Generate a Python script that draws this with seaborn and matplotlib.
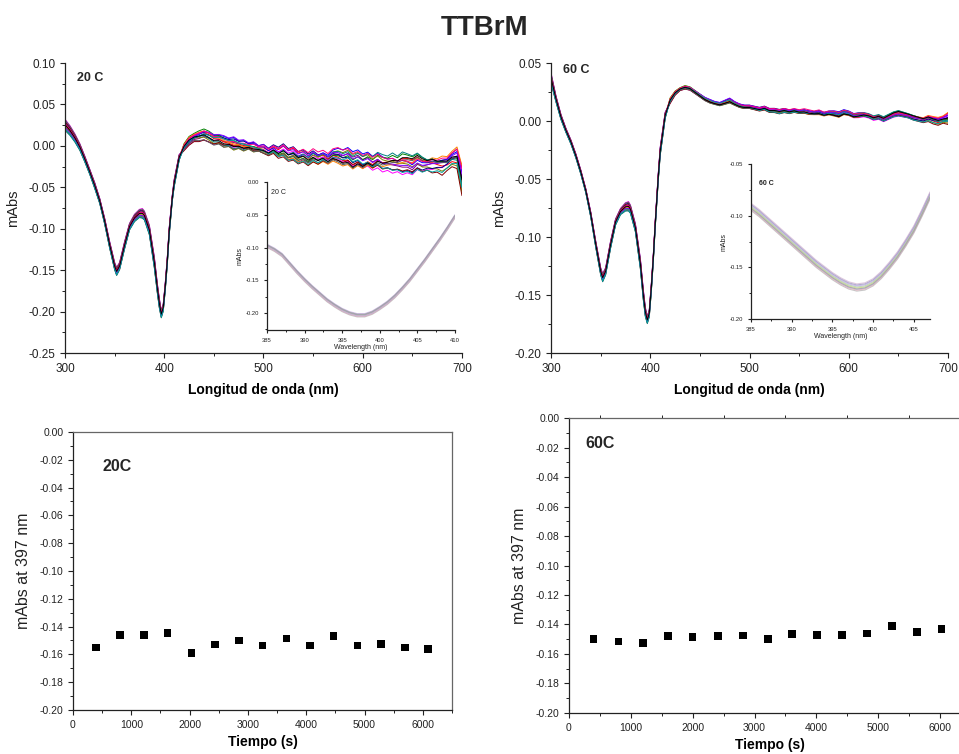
import matplotlib
matplotlib.use("Agg")
import matplotlib.pyplot as plt
from matplotlib.ticker import MultipleLocator, FormatStrFormatter
import numpy as np
import pandas as pd
import seaborn as sns

sns.set_style("ticks")
plt.rcParams["font.family"] = ["Liberation Sans", "DejaVu Sans"]
plt.rcParams["axes.unicode_minus"] = False

# ---- CD spectra: upper / lower envelope of the bundle ----
wavelength = [300, 305, 310, 315, 320, 325, 330, 335, 340, 345, 350, 352, 355, 360,
              365, 370, 375, 378, 380, 385, 390, 393, 395, 397, 399, 401, 403, 405,
              408, 410, 415, 420, 425, 430,
              435, 440, 445, 450, 455, 460, 465, 470, 475, 480, 485, 490, 495, 500,
              505, 510, 515, 520, 525, 530, 535, 540, 545, 550, 555, 560, 565, 570,
              575, 580, 585, 590, 595, 600, 605, 610, 615, 620, 625, 630, 635, 640,
              645, 650, 655, 660, 665, 670, 675, 680, 685, 690, 695, 700]

upper_20 = [0.033, 0.025, 0.015, 0.003, -0.012, -0.028, -0.044, -0.063, -0.087, -0.115,
            -0.140, -0.146, -0.140, -0.115, -0.093, -0.082, -0.076, -0.075, -0.078, -0.095,
            -0.133, -0.165, -0.183, -0.198, -0.190, -0.165, -0.135, -0.098, -0.060, -0.040,
            -0.010, 0.003, 0.012, 0.016,
            0.020, 0.023, 0.021, 0.017, 0.016, 0.014, 0.010, 0.011, 0.007, 0.008, 0.004,
            0.006, 0.001, 0.003, -0.002, 0.002, -0.001, 0.003, -0.003, -0.001, -0.006,
            -0.003, -0.007, -0.002, -0.006, -0.004, -0.008, -0.002, 0.000, -0.003, -0.001,
            -0.007, -0.004, -0.008, -0.005, -0.009, -0.004, -0.007, -0.010, -0.006, -0.011,
            -0.006, -0.009, -0.012, -0.007, -0.010, -0.013, -0.008, -0.011, -0.007, -0.010,
            -0.004, 0.001, -0.022]
lower_20 = [0.018, 0.012, 0.004, -0.006, -0.020, -0.035, -0.052, -0.070, -0.095, -0.124,
            -0.150, -0.157, -0.150, -0.125, -0.102, -0.092, -0.087, -0.088, -0.090, -0.108,
            -0.148, -0.178, -0.196, -0.208, -0.200, -0.175, -0.145, -0.108, -0.068, -0.050,
            -0.018, -0.006, 0.000, 0.004,
            0.003, 0.004, 0.001, -0.002, 0.000, -0.004, -0.002, -0.006, -0.004, -0.008,
            -0.005, -0.010, -0.008, -0.012, -0.014, -0.011, -0.017, -0.015, -0.020, -0.018,
            -0.023, -0.021, -0.026, -0.022, -0.025, -0.021, -0.024, -0.020, -0.023, -0.026,
            -0.024, -0.029, -0.026, -0.031, -0.028, -0.033, -0.030, -0.035, -0.032, -0.036,
            -0.033, -0.037, -0.034, -0.036, -0.031, -0.035, -0.032, -0.036, -0.034, -0.038,
            -0.031, -0.026, -0.028, -0.060]

upper_60 = [0.042, 0.022, 0.006, -0.006, -0.016, -0.028, -0.042, -0.058, -0.078, -0.103,
            -0.126, -0.131, -0.126, -0.103, -0.084, -0.075, -0.070, -0.069, -0.072, -0.088,
            -0.118, -0.145, -0.160, -0.168, -0.162, -0.140, -0.115, -0.085, -0.045, -0.022,
            0.008, 0.020, 0.026, 0.029,
            0.031, 0.030, 0.027, 0.024, 0.021, 0.019, 0.017, 0.016, 0.018, 0.020, 0.017,
            0.015, 0.014, 0.014, 0.013, 0.012, 0.013, 0.011, 0.011, 0.010, 0.011, 0.010,
            0.011, 0.010, 0.011, 0.010, 0.009, 0.010, 0.008, 0.009, 0.009, 0.008, 0.010,
            0.009, 0.007, 0.008, 0.008, 0.007, 0.005, 0.006, 0.004, 0.006, 0.008, 0.009,
            0.008, 0.007, 0.006, 0.005, 0.004, 0.006, 0.005, 0.004, 0.005, 0.008]
lower_60 = [0.032, 0.016, 0.001, -0.010, -0.020, -0.032, -0.046, -0.062, -0.083, -0.109,
            -0.133, -0.139, -0.133, -0.110, -0.090, -0.081, -0.078, -0.078, -0.080, -0.096,
            -0.128, -0.155, -0.169, -0.175, -0.169, -0.148, -0.122, -0.092, -0.052, -0.030,
            0.002, 0.015, 0.022, 0.026,
            0.027, 0.026, 0.023, 0.020, 0.017, 0.015, 0.014, 0.013, 0.014, 0.015, 0.013,
            0.011, 0.010, 0.010, 0.009, 0.008, 0.009, 0.007, 0.007, 0.006, 0.007, 0.006,
            0.007, 0.006, 0.006, 0.005, 0.005, 0.005, 0.004, 0.005, 0.004, 0.003, 0.005,
            0.004, 0.002, 0.002, 0.003, 0.002, 0.000, 0.001, -0.001, 0.001, 0.003, 0.004,
            0.003, 0.002, 0.000, -0.001, -0.002, -0.001, -0.003, -0.004, -0.002, -0.003]

# position of each scan inside the bundle (0 = lower edge, 1 = upper edge)
w_core = [0.55, 0.10, 0.80, 0.35, 0.95, 0.20, 0.65, 0.45, 0.05, 0.75, 0.30, 0.90, 0.60, 0.15, 0.50]
tail_knots = [415, 470, 530, 590, 650, 700]
w_tail = [
    [0.20, 0.60, 0.15, 0.70, 0.30, 0.90],
    [0.85, 0.40, 0.90, 0.25, 0.80, 0.20],
    [0.45, 0.95, 0.50, 1.00, 0.55, 0.75],
    [1.00, 0.70, 0.30, 0.55, 0.95, 0.40],
    [0.10, 0.25, 0.70, 0.20, 0.05, 0.60],
    [0.60, 0.05, 0.40, 0.85, 0.45, 0.10],
    [0.30, 0.85, 1.00, 0.40, 0.15, 0.55],
    [0.95, 0.50, 0.20, 0.05, 0.65, 0.95],
    [0.70, 0.15, 0.60, 0.75, 1.00, 0.30],
    [0.00, 0.35, 0.05, 0.30, 0.20, 0.00],
    [0.50, 1.00, 0.80, 0.60, 0.40, 0.70],
    [0.25, 0.10, 0.35, 0.10, 0.75, 0.45],
    [0.80, 0.65, 0.95, 0.90, 0.60, 0.85],
    [0.40, 0.75, 0.10, 0.45, 0.10, 0.25],
    [0.65, 0.30, 0.55, 0.15, 0.85, 0.50],
]

trace_colors = ["#7f007f", "#ff0000", "#0000ff", "#008000", "#ff00ff", "#808000",
                "#000080", "#ff8000", "#008080", "#800000", "#8000ff", "#595959",
                "#ff0080", "#00a0a0", "#000000"]

# ---- insets: zoom on the 397 nm band ----
inset_wl_20 = [385, 386, 387, 388, 389, 390, 391, 392, 393, 394, 395, 396, 397, 398,
               399, 400, 401, 402, 403, 404, 405, 406, 407, 408, 409, 410]
inset_20 = [-0.097, -0.103, -0.111, -0.124, -0.137, -0.149, -0.160, -0.170, -0.180,
            -0.188, -0.195, -0.200, -0.203, -0.203, -0.199, -0.192, -0.184, -0.174,
            -0.162, -0.149, -0.134, -0.119, -0.103, -0.087, -0.070, -0.052]
inset_wl_60 = [385, 386, 387, 388, 389, 390, 391, 392, 393, 394, 395, 396, 397, 398,
               399, 400, 401, 402, 403, 404, 405, 406, 407]
inset_60 = [-0.091, -0.097, -0.104, -0.111, -0.118, -0.125, -0.132, -0.139, -0.146,
            -0.152, -0.158, -0.163, -0.167, -0.169, -0.168, -0.164, -0.157, -0.148,
            -0.138, -0.126, -0.113, -0.097, -0.080]
inset_offsets_20 = [-0.003, -0.002, -0.001, 0.000, 0.001, 0.002, 0.000, -0.001, 0.001]
inset_offsets_60 = [-0.004, -0.003, -0.002, -0.001, 0.000, 0.001, 0.002, 0.003, -0.002]
inset_colors = ["#b0b0b0", "#e0a0b0", "#a0b0e0", "#c8c870", "#a0d0a0", "#c0a0e0",
                "#9090c0", "#d0b0d0", "#a0a0a0"]

# ---- kinetics at 397 nm ----
time_20 = [400, 810, 1220, 1620, 2030, 2440, 2850, 3250, 3660, 4060, 4470, 4880, 5280, 5690, 6090]
mabs_20 = [-0.155, -0.146, -0.146, -0.1445, -0.159, -0.153, -0.150, -0.1535, -0.1485,
           -0.1535, -0.147, -0.1535, -0.1525, -0.155, -0.156]
time_60 = [395, 800, 1200, 1605, 2000, 2405, 2810, 3215, 3610, 4015, 4415, 4820, 5220, 5625, 6025]
mabs_60 = [-0.150, -0.1515, -0.1525, -0.148, -0.1485, -0.148, -0.1475, -0.150, -0.1465,
           -0.147, -0.147, -0.146, -0.141, -0.145, -0.143]

TXT = "#222222"


def bundle(wl, upper, lower, split=415):
    wl = np.asarray(wl, float)
    up = np.asarray(upper)
    lo = np.asarray(lower)
    frames = []
    for i, (wc, wt) in enumerate(zip(w_core, w_tail)):
        w = np.where(wl <= split, wc, np.interp(wl, tail_knots, wt))
        frames.append(pd.DataFrame({"wl": wl, "mabs": lo + w * (up - lo), "scan": f"s{i:02d}"}))
    return pd.concat(frames, ignore_index=True)


def inset_bundle(wl, base, offsets):
    frames = []
    for i, off in enumerate(offsets):
        frames.append(pd.DataFrame({"wl": wl, "mabs": np.asarray(base) + off, "scan": f"s{i:02d}"}))
    return pd.concat(frames, ignore_index=True)


def style(ax, size, length=3.5):
    ax.tick_params(which="major", direction="out", length=length, width=0.8,
                   labelsize=size, colors=TXT)
    ax.tick_params(which="minor", direction="out", length=length * 0.55, width=0.7, colors=TXT)
    for s in ax.spines.values():
        s.set_color(TXT)
        s.set_linewidth(0.9)
    ax.yaxis.set_major_formatter(FormatStrFormatter("%.2f"))


def spectrum(rect, upper, lower, ylim, label, label_xy):
    ax = fig.add_axes(rect)
    df = bundle(wavelength, upper, lower)
    sns.lineplot(data=df, x="wl", y="mabs", hue="scan", palette=trace_colors,
                 estimator=None, legend=False, linewidth=0.7, ax=ax)
    ax.set_xlim(300, 700)
    ax.set_ylim(*ylim)
    ax.xaxis.set_major_locator(MultipleLocator(100))
    ax.xaxis.set_minor_locator(MultipleLocator(50))
    ax.yaxis.set_major_locator(MultipleLocator(0.05))
    ax.yaxis.set_minor_locator(MultipleLocator(0.025))
    sns.despine(ax=ax)
    style(ax, 8.5)
    ax.set_xlabel("Longitud de onda (nm)", fontsize=10, fontweight="bold", color="black", labelpad=6)
    ax.set_ylabel("mAbs", fontsize=10.5, color=TXT, labelpad=6)
    ax.text(*label_xy, label, transform=ax.transAxes, fontsize=9, fontweight="bold", va="center")
    return ax


def inset(rect, wl, base, offsets, xlim, ylim, label, label_xy, bold):
    ax = fig.add_axes(rect)
    df = inset_bundle(wl, base, offsets)
    sns.lineplot(data=df, x="wl", y="mabs", hue="scan", palette=inset_colors[:len(offsets)],
                 estimator=None, legend=False, linewidth=0.8, alpha=0.7, ax=ax)
    ax.set_xlim(*xlim)
    ax.set_ylim(*ylim)
    ax.xaxis.set_major_locator(MultipleLocator(5))
    ax.xaxis.set_minor_locator(MultipleLocator(2.5))
    ax.yaxis.set_major_locator(MultipleLocator(0.05))
    ax.yaxis.set_minor_locator(MultipleLocator(0.025))
    ax.patch.set_alpha(0)
    sns.despine(ax=ax)
    style(ax, 4.2, length=2)
    ax.set_xlabel("Wavelength (nm)", fontsize=5, color=TXT, labelpad=1)
    ax.set_ylabel("mAbs", fontsize=5, color=TXT, labelpad=2)
    ax.text(*label_xy, label, transform=ax.transAxes, fontsize=5,
            fontweight="bold" if bold else "normal", va="center", color=TXT)


def kinetics(rect, t, y, label, label_xy, top_minor):
    ax = fig.add_axes(rect)
    sns.scatterplot(x=t, y=y, marker="s", s=30, color="black", edgecolor="none", ax=ax)
    ax.set_xlim(0, 6500)
    ax.set_ylim(-0.20, 0.0)
    ax.xaxis.set_major_locator(MultipleLocator(1000))
    ax.xaxis.set_minor_locator(MultipleLocator(500))
    ax.yaxis.set_major_locator(MultipleLocator(0.02))
    ax.yaxis.set_minor_locator(MultipleLocator(0.01))
    style(ax, 7.5)
    for s in ("top", "right"):
        ax.spines[s].set_color("#666666")
    ax.tick_params(which="major", top=False, right=False)
    ax.tick_params(which="minor", top=top_minor, right=False)
    ax.set_xlabel("Tiempo (s)", fontsize=10, fontweight="bold", color="black", labelpad=4)
    ax.set_ylabel("mAbs at 397 nm", fontsize=11.5, color=TXT, labelpad=6)
    ax.text(*label_xy, label, transform=ax.transAxes, fontsize=11.5, fontweight="bold", va="center")
    return ax


fig = plt.figure(figsize=(9.59, 7.54), dpi=100)

spectrum([0.0678, 0.5318, 0.4139, 0.3846], upper_20, lower_20, (-0.25, 0.10), "20 C", (0.030, 0.948))
spectrum([0.5746, 0.5318, 0.4140, 0.3846], upper_60, lower_60, (-0.20, 0.05), "60 C", (0.030, 0.976))

inset([0.2784, 0.5623, 0.1960, 0.1963], inset_wl_20, inset_20, inset_offsets_20,
      (385, 410), (-0.226, 0.0), "20 C", (0.02, 0.93), False)
inset([0.7831, 0.5769, 0.1867, 0.2056], inset_wl_60, inset_60, inset_offsets_60,
      (385, 407), (-0.20, -0.05), "60 C", (0.045, 0.877), True)

kinetics([0.0761, 0.0584, 0.3952, 0.3687], time_20, mabs_20, "20C", (0.077, 0.874), False)
kinetics([0.5933, 0.0544, 0.4192, 0.3912], time_60, mabs_60, "60C", (0.040, 0.915), True)

fig.text(0.505, 0.963, "TTBrM", ha="center", va="center", fontsize=20, fontweight="bold")

fig.savefig("out.png", dpi=100)
